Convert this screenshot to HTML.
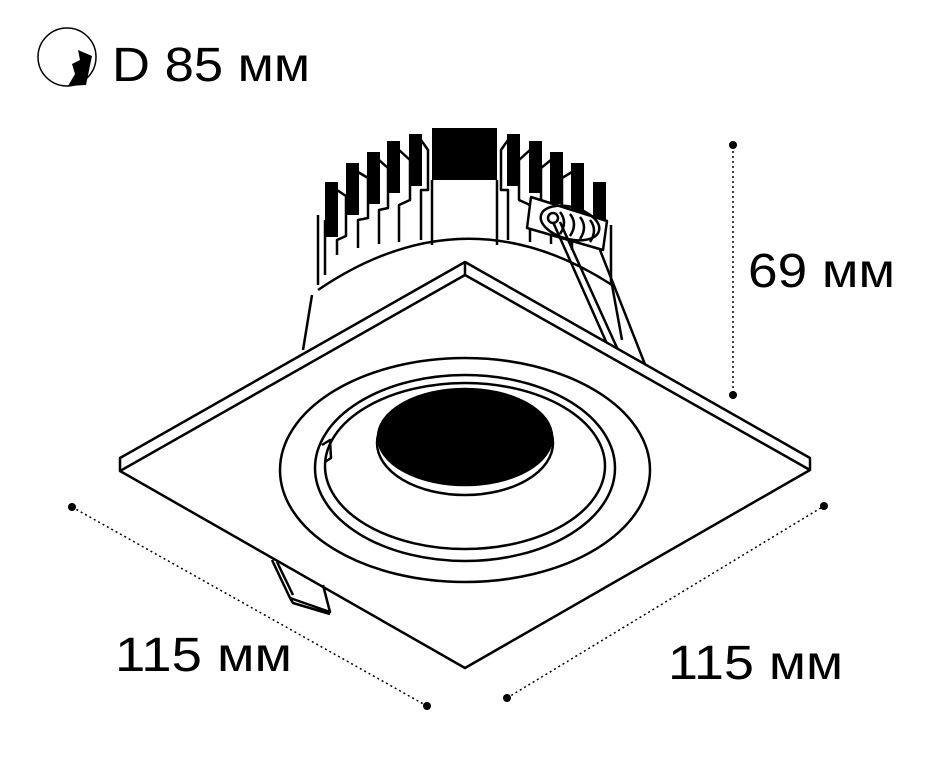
<!DOCTYPE html>
<html><head><meta charset="utf-8"><style>
body{margin:0;background:#fff;width:951px;height:768px;overflow:hidden}
svg{display:block}
text{font-family:"Liberation Sans","DejaVu Sans",sans-serif;fill:#000}
</style></head><body>
<svg width="951" height="768" viewBox="0 0 951 768" xmlns="http://www.w3.org/2000/svg">
<!-- icon -->
<circle cx="67" cy="57" r="29" fill="none" stroke="#000" stroke-width="1.5"/>
<path d="M78 50 L92 56 L86 85 L68 86 L75 74 L72 64 L80 60 Z" fill="#000"/>
<text x="112" y="81" font-size="48" textLength="198" lengthAdjust="spacingAndGlyphs">D 85 мм</text>

<g fill="none" stroke="#000" stroke-width="2.5" stroke-linejoin="round">
<!-- fins -->
<g fill="#000" stroke="none">
<rect x="432" y="128" width="65" height="52"/>
<rect x="409" y="134" width="13" height="52"/>
<rect x="387" y="141" width="13" height="52"/>
<rect x="367" y="152" width="13" height="52"/>
<rect x="346" y="163" width="13" height="52"/>
<rect x="325" y="182" width="13" height="55"/>
<rect x="507" y="134" width="13" height="52"/>
<rect x="529" y="141" width="13" height="52"/>
<rect x="550" y="152" width="13" height="52"/>
<rect x="571" y="163" width="13" height="52"/>
<rect x="593" y="182" width="13" height="50"/>
</g>
<path d="M432 180 L432 245 M497 180 L497 245"/>
<path d="M421 140 L428 150 L428 190 L421 190 L421 240 M399 150 L410 160 L410 200 L399 205 L399 242 M379 160 L388 168 L388 208 L379 210 L379 244 M358 172 L368 178 L368 218 L358 220 L358 248 M337 190 L346 196 L346 236 L337 240 L337 255 M318 215 L318 285 M325 220 L325 275"/>
<path d="M508 140 L501 150 L501 190 L508 190 L508 240 M530 150 L519 160 L519 200 L530 205 L530 242 M551 160 L541 168 L541 208 L551 210 L551 244 M572 172 L562 178 L562 218 L572 220 L572 250 M611 225 L611 285"/>
<!-- housing -->
<path d="M318 290 Q465 190 612 285" stroke-width="2.5"/>
<path d="M312 295 L303 350 M612 285 L622 340"/>
<!-- connector block -->
<path d="M531 197 L607 221 L603 250 L527 228 Z" fill="#fff"/>
<ellipse cx="570" cy="223" rx="30" ry="16" transform="rotate(15 570 223)"/>
<path d="M560 212 q8 10 0 22 M570 214 q8 10 0 22 M580 217 q8 10 0 22 M590 220 q8 10 0 22"/>
<circle cx="553" cy="218" r="5"/>
<!-- clip right -->
<path d="M553 222 L612 355 L648 372 L600 250 M560 222 L618 350"/>
<!-- plate -->
<path d="M120 458 L465 262 L810 458 L810 470 L465 668 L120 471 Z" fill="#fff"/>
<path d="M120 471 L465 275 L810 470 M465 262 L465 275"/>
<!-- rings -->
<ellipse cx="465" cy="470" rx="185" ry="112"/>
<ellipse cx="465" cy="468" rx="150" ry="93"/>
<ellipse cx="465" cy="466" rx="140" ry="83"/>
<path d="M322 445 L330 440 L331 458 L325 462"/>
<ellipse cx="465" cy="443" rx="88" ry="52"/>
<ellipse cx="465" cy="437" rx="87" ry="48" fill="#000"/>
<!-- clip left -->
<path d="M272 560 L290 598 L330 612 L323 585 M277 562 L293 595 M290 598 L293 603 L330 614"/>
</g>
<!-- dimensions -->
<g stroke="#000" stroke-width="1.5" stroke-dasharray="2 3" fill="none">
<line x1="733" y1="146" x2="733" y2="394"/>
<line x1="72" y1="507" x2="427" y2="706"/>
<line x1="507" y1="698" x2="824" y2="506"/>
</g>
<g fill="#000">
<circle cx="733" cy="145" r="4"/><circle cx="733" cy="395" r="4"/>
<circle cx="72" cy="507" r="4"/><circle cx="427" cy="706" r="4"/>
<circle cx="507" cy="698" r="4"/><circle cx="824" cy="506" r="4"/>
</g>
<text x="748" y="287" font-size="48" textLength="147" lengthAdjust="spacingAndGlyphs">69 мм</text>
<text x="115" y="671" font-size="48" textLength="177" lengthAdjust="spacingAndGlyphs">115 мм</text>
<text x="668" y="679" font-size="48" textLength="175" lengthAdjust="spacingAndGlyphs">115 мм</text>
</svg>
</body></html>
